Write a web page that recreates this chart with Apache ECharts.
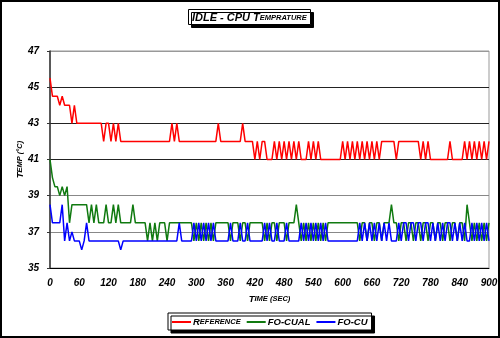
<!DOCTYPE html>
<html>
<head>
<meta charset="utf-8">
<script src="https://cdn.jsdelivr.net/npm/echarts@6/dist/echarts.min.js"></script>
<style>
html,body{margin:0;padding:0;background:#fff;}
#c{width:500px;height:338px;}
</style>
</head>
<body>
<div id="c"></div>
<script>
// Sample step of the readings (seconds)
const sampleStep = 5;

const seriesNames = ['Reference', 'FO-CUAL', 'FO-CU'];

const xTickLabels = [0, 60, 120, 180, 240, 300, 360, 420, 480, 540, 600, 660, 720, 780, 840, 900];
const yTickLabels = [35, 37, 39, 41, 43, 45, 47];

const reference = [
  45.5, 44.5, 44.5, 44.5, 44, 44.5, 44, 44, 44, 43,
  44, 43, 43, 43, 43, 43, 43, 43, 43, 43,
  43, 43, 42, 43, 43, 42, 43, 42, 43, 42,
  42, 42, 42, 42, 42, 42, 42, 42, 42, 42,
  42, 42, 42, 42, 42, 42, 42, 42, 42, 42,
  43, 42, 43, 42, 42, 42, 42, 42, 42, 42,
  42, 42, 42, 42, 42, 42, 42, 42, 42, 43,
  42, 42, 42, 42, 42, 42, 42, 42, 42, 43,
  42, 42, 42, 42, 41, 42, 41, 42, 42, 41,
  41, 41, 42, 41, 42, 41, 42, 41, 42, 41,
  42, 41, 42, 41, 41, 41, 42, 41, 42, 41,
  42, 41, 41, 41, 41, 41, 41, 41, 41, 41,
  42, 41, 42, 41, 42, 41, 42, 41, 42, 41,
  42, 41, 42, 41, 42, 41, 42, 42, 42, 42,
  42, 42, 41, 42, 42, 42, 42, 42, 42, 42,
  42, 42, 41, 42, 41, 42, 41, 41, 41, 41,
  41, 41, 41, 41, 42, 41, 41, 41, 41, 41,
  42, 41, 42, 41, 42, 41, 42, 41, 42, 41,
  42
];

const foCual = [
  41, 40, 39.5, 39.5, 39, 39.5, 39, 39.5, 37.5, 38.5,
  38.5, 38.5, 38.5, 38.5, 38.5, 38.5, 37.5, 38.5, 37.5, 38.5,
  37.5, 37.5, 37.5, 38.5, 37.5, 37.5, 38.5, 37.5, 38.5, 37.5,
  37.5, 37.5, 37.5, 37.5, 38.5, 37.5, 37.5, 37.5, 37.5, 37.5,
  36.5, 37.5, 36.5, 37.5, 36.5, 37.5, 37.5, 37.5, 36.5, 37.5,
  37.5, 37.5, 37.5, 37.5, 37.5, 37.5, 37.5, 37.5, 37.5, 36.5,
  37.5, 36.5, 37.5, 36.5, 37.5, 36.5, 37.5, 36.5, 37.5, 37.5,
  37.5, 37.5, 37.5, 37.5, 36.5, 37.5, 37.5, 37.5, 36.5, 37.5,
  37.5, 36.5, 37.5, 37.5, 37.5, 37.5, 37.5, 37.5, 36.5, 37.5,
  36.5, 37.5, 37.5, 36.5, 37.5, 37.5, 37.5, 36.5, 37.5, 37.5,
  37.5, 38.5, 37.5, 36.5, 37.5, 36.5, 37.5, 36.5, 37.5, 36.5,
  37.5, 36.5, 37.5, 36.5, 37.5, 37.5, 37.5, 37.5, 37.5, 37.5,
  37.5, 37.5, 37.5, 37.5, 37.5, 37.5, 37.5, 36.5, 37.5, 37.5,
  36.5, 37.5, 37.5, 36.5, 37.5, 37.5, 36.5, 37.5, 37.5, 37.5,
  38.5, 37.5, 37.5, 36.5, 37.5, 37.5, 36.5, 37.5, 37.5, 36.5,
  37.5, 37.5, 36.5, 37.5, 37.5, 36.5, 37.5, 37.5, 36.5, 37.5,
  37.5, 36.5, 37.5, 37.5, 36.5, 37.5, 37.5, 36.5, 37.5, 37.5,
  36.5, 38.5, 37.5, 36.5, 37.5, 36.5, 37.5, 36.5, 37.5, 36.5,
  37.5
];

const foCu = [
  38.5, 37.5, 37.5, 37.5, 37.5, 38.5, 36.5, 37.5, 36.5, 37,
  36.5, 36.5, 36.5, 36, 36.5, 37.5, 36.5, 36.5, 36.5, 36.5,
  36.5, 36.5, 36.5, 36.5, 36.5, 36.5, 36.5, 36.5, 36.5, 36,
  36.5, 36.5, 36.5, 36.5, 36.5, 36.5, 36.5, 36.5, 36.5, 36.5,
  36.5, 36.5, 36.5, 36.5, 36.5, 36.5, 36.5, 36.5, 36.5, 36.5,
  36.5, 36.5, 36.5, 37.5, 36.5, 36.5, 36.5, 36.5, 36.5, 37.5,
  36.5, 37.5, 36.5, 37.5, 36.5, 37.5, 36.5, 37.5, 36.5, 36.5,
  36.5, 36.5, 36.5, 36.5, 37.5, 36.5, 36.5, 36.5, 37.5, 36.5,
  36.5, 37.5, 36.5, 36.5, 36.5, 36.5, 36.5, 36.5, 37.5, 36.5,
  37.5, 36.5, 36.5, 37.5, 36.5, 36.5, 36.5, 37.5, 36.5, 36.5,
  36.5, 36.5, 36.5, 37.5, 36.5, 37.5, 36.5, 37.5, 36.5, 37.5,
  36.5, 37.5, 36.5, 37.5, 36.5, 36.5, 36.5, 36.5, 36.5, 36.5,
  36.5, 36.5, 36.5, 36.5, 36.5, 36.5, 36.5, 37.5, 36.5, 37.5,
  36.5, 37.5, 36.5, 37.5, 36.5, 37.5, 36.5, 37.5, 36.5, 37.5,
  36.5, 36.5, 36.5, 37.5, 36.5, 37.5, 37.5, 36.5, 37.5, 37.5,
  36.5, 37.5, 37.5, 36.5, 37.5, 37.5, 36.5, 37.5, 36.5, 37.5,
  36.5, 37.5, 36.5, 37.5, 37.5, 36.5, 37.5, 36.5, 37.5, 36.5,
  37.5, 36.5, 36.5, 37.5, 36.5, 37.5, 36.5, 37.5, 36.5, 37.5,
  36.5
];

function pairs(values) {
  return values.map((v, i) => [i * sampleStep, v]);
}

const FONT = '"Liberation Sans", Arial, sans-serif';
const chart = echarts.init(document.getElementById('c'), null, { renderer: 'canvas' });

const option = {
  animation: false,
  backgroundColor: '#fff',
  graphic: [{
    type: 'rect', silent: true, z: -10,
    shape: { x: 1, y: 1, width: 498, height: 336 },
    style: { fill: 'none', stroke: '#000', lineWidth: 2 }
  }],
  title: {
    text: '{a|IDLE - CPU T}{b|EMPRATURE}',
    left: 188, top: 9,
    padding: [3, 4, 2, 4],
    backgroundColor: '#fff',
    borderColor: '#000', borderWidth: 1,
    shadowColor: '#000', shadowOffsetX: 3, shadowOffsetY: 3, shadowBlur: 0,
    textStyle: {
      rich: {
        a: { fontFamily: FONT, fontSize: 11, fontWeight: 'bold', fontStyle: 'italic', color: '#000' },
        b: { fontFamily: FONT, fontSize: 7.5, fontWeight: 'bold', fontStyle: 'italic', color: '#000' }
      }
    }
  },
  legend: {
    data: seriesNames,
    left: 168, top: 313,
    padding: [4, 4, 3, 4],
    itemGap: 6,
    itemWidth: 19, itemHeight: 2,
    icon: 'rect',
    backgroundColor: '#fff',
    borderColor: '#000', borderWidth: 1,
    shadowColor: '#000', shadowOffsetX: 3, shadowOffsetY: 3, shadowBlur: 0,
    formatter: function (name) {
      if (name === 'Reference') return '{a|R}{b|EFERENCE}';
      return '{a|' + name + '}';
    },
    textStyle: {
      padding: [0, 0, 0, -3],
      rich: {
        a: { fontFamily: FONT, fontSize: 9.5, fontWeight: 'bold', fontStyle: 'italic', color: '#000' },
        b: { fontFamily: FONT, fontSize: 7.5, fontWeight: 'bold', fontStyle: 'italic', color: '#000' }
      }
    }
  },
  grid: {
    left: 50, right: 11, top: 51, bottom: 70,
    show: true, borderColor: '#999', borderWidth: 1,
    outerBoundsMode: 'none'
  },
  xAxis: {
    type: 'value', min: xTickLabels[0], max: xTickLabels[xTickLabels.length - 1], interval: 60,
    name: '{a|T}{b|IME (SEC)}',
    nameLocation: 'middle', nameGap: 26, nameMoveOverlap: false,
    nameTextStyle: {
      rich: {
        a: { fontFamily: FONT, fontSize: 9.5, fontWeight: 'bold', fontStyle: 'italic', color: '#000' },
        b: { fontFamily: FONT, fontSize: 7.5, fontWeight: 'bold', fontStyle: 'italic', color: '#000' }
      }
    },
    axisLine: { show: true, lineStyle: { color: '#000', width: 1 } },
    axisTick: { show: false },
    splitLine: { show: false },
    axisLabel: {
      margin: 10,
      fontFamily: FONT, fontSize: 10, fontWeight: 'bold', fontStyle: 'italic', color: '#000',
      formatter: v => (xTickLabels.indexOf(v) >= 0 ? String(v) : '')
    }
  },
  yAxis: {
    type: 'value', min: yTickLabels[0], max: yTickLabels[yTickLabels.length - 1], interval: 2,
    name: '{a|T}{b|EMP (°C)}',
    nameLocation: 'middle', nameGap: 25, nameRotate: 90, nameMoveOverlap: false,
    nameTextStyle: {
      rich: {
        a: { fontFamily: FONT, fontSize: 9.5, fontWeight: 'bold', fontStyle: 'italic', color: '#000' },
        b: { fontFamily: FONT, fontSize: 7.5, fontWeight: 'bold', fontStyle: 'italic', color: '#000' }
      }
    },
    axisLine: { show: true, lineStyle: { color: '#333', width: 1.5 } },
    axisTick: { show: true, length: 3, lineStyle: { color: '#333' } },
    splitLine: {
      show: true,
      lineStyle: { color: ['#888', '#888', '#888', '#222', '#222', '#222', '#999'], width: 1.2 }
    },
    axisLabel: {
      margin: 11,
      fontFamily: FONT, fontSize: 10, fontWeight: 'bold', fontStyle: 'italic', color: '#000'
    }
  },
  series: [
    {
      name: seriesNames[0], type: 'line', data: pairs(reference),
      showSymbol: false, symbol: 'none',
      lineStyle: { color: '#ff0000', width: 1.5 }, itemStyle: { color: '#ff0000' }
    },
    {
      name: seriesNames[1], type: 'line', data: pairs(foCual),
      showSymbol: false, symbol: 'none',
      lineStyle: { color: '#107a10', width: 1.5 }, itemStyle: { color: '#107a10' }
    },
    {
      name: seriesNames[2], type: 'line', data: pairs(foCu),
      showSymbol: false, symbol: 'none',
      lineStyle: { color: '#0000ff', width: 1.5 }, itemStyle: { color: '#0000ff' }
    }
  ]
};
chart.setOption(option);
</script>
</body>
</html>
